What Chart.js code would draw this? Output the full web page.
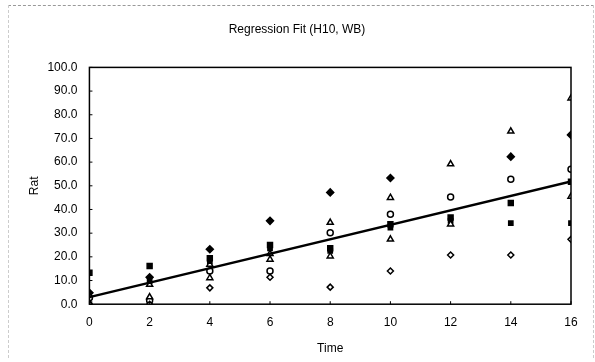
<!DOCTYPE html>
<html>
<head>
<meta charset="utf-8">
<script src="https://cdn.jsdelivr.net/npm/chart.js@4.4.0/dist/chart.umd.min.js"></script>
<style>
    html, body { margin: 0; padding: 0; background: #fff; }
    #wrap { position: relative; width: 595px; height: 362px; }
    #frame { position: absolute; left: 8px; top: 5px; width: 584px; height: 352px;
             border-top: 1px dashed #999; border-left: 1px dashed #ccc; border-right: 1px dashed #ccc; }
</style>
</head>
<body>
<div id="wrap">
    <div id="frame"></div>
    <canvas id="fit" width="595" height="362"></canvas>
</div>
<script>
var times = [0, 2, 4, 6, 8, 10, 12, 14, 16];

// one array per marker group (null = no mark)
var filledDiamond = [4.8, 11.4, 23.2, 35.2, 47.2, 53.3, null, 62.3, 71.5];
var openTriangle = [0.0, 8.3, 16.8, 18.9, 34.5, 45.0, 59.2, 73.0, 87.0];
var openCircle = [2.7, 1.6, 14.0, 14.0, 30.2, 38.0, 45.3, 52.8, 57.0];
var filledSquare = [13.3, 16.1, 19.4, 25.0, 23.6, 33.8, 36.6, 42.7, 51.7];
var filledSquare2 = [0.0, 9.7, 18.2, 23.6, 22.5, 32.3, 35.2, 34.2, 34.2];
var openTriangle2 = [0.0, 3.0, 11.1, 21.3, 20.3, 27.4, 33.8, null, 45.5];
var openDiamond = [0.0, 0.0, 6.9, 11.4, 7.2, 14.0, 20.8, 20.8, 27.4];

var fitX = [0, 16];
var fitY = [3.0, 51.8];

var yTicks = [0, 10, 20, 30, 40, 50, 60, 70, 80, 90, 100];

function pts(values) {
    var out = [];
    for (var i = 0; i < times.length; i++) {
        if (values[i] !== null) {
            out.push({ x: times[i], y: values[i] });
        }
    }
    return out;
}

function marks(values, style, filled, radius) {
    return {
        type: 'scatter',
        data: pts(values),
        pointStyle: style,
        pointRadius: radius,
        pointBorderWidth: 1.5,
        pointBorderColor: '#000',
        pointBackgroundColor: filled ? '#000' : '#fff'
    };
}

// box around the plot area plus small inward tick marks
var frameBox = {
    id: 'frameBox',
    afterDraw: function (chart) {
        var a = chart.chartArea;
        var ctx = chart.ctx;
        var xs = chart.scales.x;
        var ys = chart.scales.y;
        ctx.save();
        ctx.strokeStyle = '#000';
        ctx.lineWidth = 1.5;
        ctx.strokeRect(a.left, a.top, a.right - a.left, a.bottom - a.top);
        ctx.lineWidth = 1;
        ctx.beginPath();
        yTicks.forEach(function (v) {
            var y = ys.getPixelForValue(v);
            ctx.moveTo(a.left, y);
            ctx.lineTo(a.left + 3, y);
        });
        times.forEach(function (v) {
            var x = xs.getPixelForValue(v);
            ctx.moveTo(x, a.bottom);
            ctx.lineTo(x, a.bottom - 3);
        });
        ctx.stroke();
        ctx.restore();
    }
};

var font = { family: 'Liberation Sans, Arial, sans-serif', size: 12 };

new Chart(document.getElementById('fit'), {
    type: 'scatter',
    data: {
        datasets: [
            {
                type: 'line',
                data: [{ x: fitX[0], y: fitY[0] }, { x: fitX[1], y: fitY[1] }],
                borderColor: '#000',
                borderWidth: 2.5,
                pointRadius: 0,
                fill: false
            },
            marks(openDiamond, 'rectRot', false, 3),
            marks(openTriangle2, 'triangle', false, 3.5),
            marks(filledSquare2, 'rect', true, 3),
            marks(filledSquare, 'rect', true, 3.5),
            marks(openCircle, 'circle', false, 3),
            marks(openTriangle, 'triangle', false, 3.5),
            marks(filledDiamond, 'rectRot', true, 3.5)
        ]
    },
    options: {
        responsive: false,
        animation: false,
        layout: { padding: { left: 23, right: 24, top: 8, bottom: 2 } },
        plugins: {
            legend: { display: false },
            tooltip: { enabled: false },
            title: {
                display: true,
                text: 'Regression Fit (H10, WB)',
                color: '#000',
                font: { family: font.family, size: 12, weight: 'normal' },
                padding: { top: 14, bottom: 31 }
            }
        },
        scales: {
            x: {
                type: 'linear',
                min: 0,
                max: 16,
                grid: { display: false },
                border: { display: false },
                ticks: { stepSize: 2, color: '#000', font: font, padding: 3 },
                title: { display: true, text: 'Time', color: '#000', font: font, padding: { top: 9 } }
            },
            y: {
                min: 0,
                max: 100,
                grid: { display: false },
                border: { display: false },
                ticks: {
                    stepSize: 10,
                    color: '#000',
                    font: font,
                    padding: 4,
                    callback: function (value) { return value.toFixed(1); }
                },
                title: { display: true, text: 'Rat', color: '#000', font: font, padding: { bottom: 2 } }
            }
        }
    },
    plugins: [frameBox]
});
</script>
</body>
</html>
